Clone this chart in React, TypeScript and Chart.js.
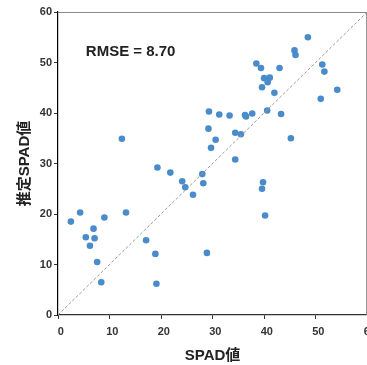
import React, { useEffect, useRef } from "react";
import { Chart, registerables } from "chart.js";

Chart.register(...registerables);

const spadValues = [
  2.5, 4.3, 5.4, 6.2, 6.9, 7.1, 7.6, 8.4, 9.0, 12.4, 13.2, 17.1, 18.9, 19.1,
  19.3, 21.8, 24.1, 24.7, 26.2, 28.0, 28.2, 28.9, 29.2, 29.3, 29.7, 30.6, 31.3,
  33.3, 34.4, 34.4, 35.5, 36.3, 36.5, 37.7, 38.5, 39.4, 39.6, 39.6, 39.8, 40.0,
  40.2, 40.7, 40.6, 41.1, 42.0, 43.0, 43.3, 45.2, 45.9, 46.1, 48.5, 51.0, 51.3,
  51.7, 54.2,
];
const estimatedValues = [
  18.5, 20.3, 15.4, 13.7, 17.1, 15.2, 10.5, 6.5, 19.3, 34.9, 20.3, 14.8, 12.1,
  6.2, 29.2, 28.2, 26.5, 25.3, 23.8, 27.9, 26.1, 12.3, 36.9, 40.3, 33.1, 34.7,
  39.7, 39.5, 30.8, 36.1, 35.8, 39.6, 39.3, 39.9, 49.8, 48.9, 45.1, 25.0, 26.3,
  46.9, 19.7, 46.1, 40.5, 47.0, 44.0, 48.9, 39.8, 35.0, 52.4, 51.5, 55.0, 42.8,
  49.6, 48.2, 44.6,
];
const identityLine = [0, 60];
const axisTicks = [0, 10, 20, 30, 40, 50, 60];
const xTitle = "SPAD値";
const yTitle = "推定SPAD値";
const rmseText = "RMSE = 8.70";
const rmseAnchor = [5.4, 52.1];

const FONT = "'Liberation Sans', Arial, 'Noto Sans CJK JP', sans-serif";

const extrasPlugin = {
  id: "extras",
  afterDraw(chart: any) {
    const { ctx, chartArea, scales } = chart;
    ctx.save();
    ctx.strokeStyle = "#8a8a8a";
    ctx.lineWidth = 1;
    ctx.beginPath();
    ctx.moveTo(chartArea.left, chartArea.top + 0.5);
    ctx.lineTo(chartArea.right, chartArea.top + 0.5);
    ctx.moveTo(chartArea.right - 0.5, chartArea.top);
    ctx.lineTo(chartArea.right - 0.5, chartArea.bottom);
    ctx.stroke();
    ctx.fillStyle = "#222";
    ctx.font = `bold 15px ${FONT}`;
    ctx.textAlign = "left";
    ctx.textBaseline = "middle";
    ctx.fillText(
      rmseText,
      scales.x.getPixelForValue(rmseAnchor[0]),
      scales.y.getPixelForValue(rmseAnchor[1])
    );
    ctx.restore();
  },
};

export default function App() {
  const ref = useRef<HTMLCanvasElement>(null);
  useEffect(() => {
    if (!ref.current) return;
    const chart = new Chart(ref.current, {
      type: "scatter",
      data: {
        datasets: [
          {
            type: "line",
            data: identityLine.map((v) => ({ x: v, y: v })),
            borderColor: "#9a9a9a",
            borderWidth: 1,
            borderDash: [3, 2],
            pointRadius: 0,
            fill: false,
          },
          {
            data: spadValues.map((x, i) => ({ x, y: estimatedValues[i] })),
            backgroundColor: "rgb(74,139,202)",
            borderWidth: 0,
            pointRadius: 3.3,
          },
        ],
      } as any,
      options: {
        animation: false,
        responsive: false,
        devicePixelRatio: 1,
        layout: { padding: { top: 12, right: 12, left: 0, bottom: 0 } },
        plugins: { legend: { display: false }, tooltip: { enabled: false } },
        scales: {
          x: {
            type: "linear",
            min: 0,
            max: 60,
            afterFit: (s: any) => {
              s.height = 50;
            },
            afterBuildTicks: (s: any) => {
              s.ticks = axisTicks.map((v) => ({ value: v }));
            },
            ticks: {
              color: "#333",
              font: { family: FONT, size: 11, weight: "bold" },
              padding: 6,
              callback: (v: any) => "\u2002" + v,
            },
            grid: {
              drawOnChartArea: false,
              drawTicks: true,
              tickLength: 4,
              tickColor: "#333",
            },
            border: { color: "#333", width: 1.3 },
            title: {
              display: true,
              text: xTitle,
              color: "#222",
              font: { family: FONT, size: 15, weight: "bold" },
              padding: { top: 0, bottom: 0 },
            },
          },
          y: {
            type: "linear",
            min: 0,
            max: 60,
            afterFit: (s: any) => {
              s.width = 58;
            },
            afterBuildTicks: (s: any) => {
              s.ticks = axisTicks.map((v) => ({ value: v }));
            },
            ticks: {
              color: "#333",
              font: { family: FONT, size: 11, weight: "bold" },
              padding: 2,
            },
            grid: {
              drawOnChartArea: false,
              drawTicks: true,
              tickLength: 4,
              tickColor: "#333",
            },
            border: { color: "#000", width: 1.2 },
            title: {
              display: true,
              text: yTitle,
              color: "#222",
              font: { family: FONT, size: 15, weight: "bold" },
              padding: { top: 16, bottom: 0 },
            },
          },
        },
      },
      plugins: [extrasPlugin],
    } as any);
    return () => chart.destroy();
  }, []);
  return (
    <div
      style={{
        position: "fixed",
        left: 0,
        top: 0,
        width: 367,
        height: 365,
        overflow: "hidden",
        background: "#fff",
      }}
    >
      <canvas ref={ref} width={382} height={365} style={{ display: "block" }} />
    </div>
  );
}
